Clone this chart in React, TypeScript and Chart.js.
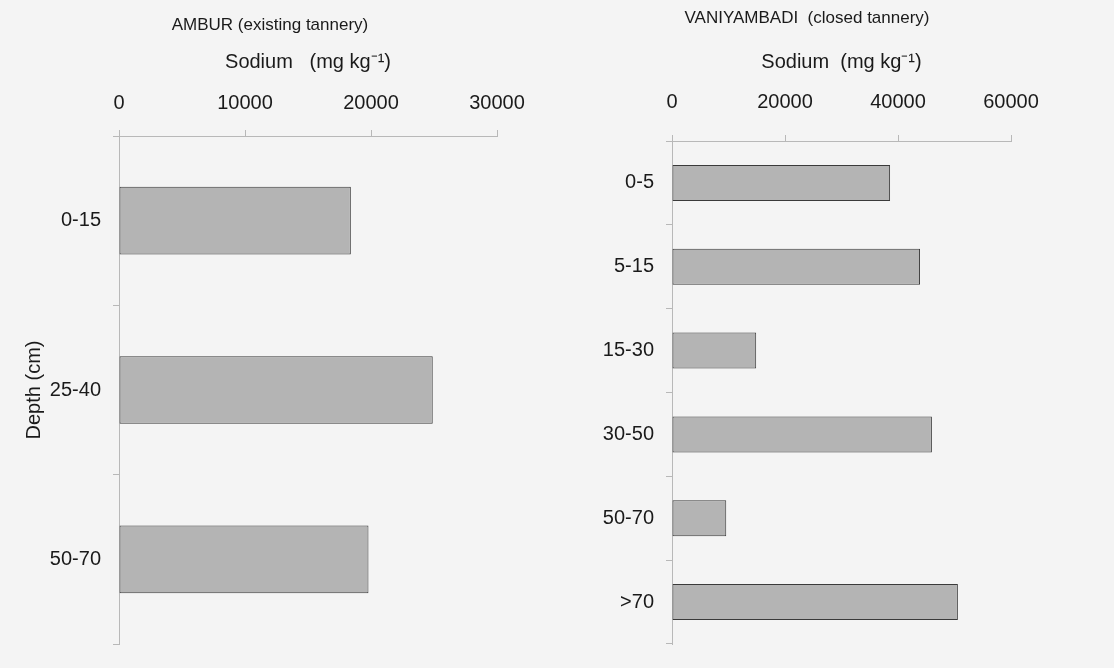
import React, { useEffect, useRef } from 'react';
import { Chart, registerables } from 'chart.js';

Chart.register(...registerables);

// ---- Data ----
const amburTitle = 'AMBUR (existing tannery)';
const amburDepths = ['0-15', '25-40', '50-70'];
const amburSodium = [18400, 24900, 19800];
const amburTicks = [0, 10000, 20000, 30000];

const vaniTitle = 'VANIYAMBADI  (closed tannery)';
const vaniDepths = ['0-5', '5-15', '15-30', '30-50', '50-70', '>70'];
const vaniSodium = [38600, 43900, 14900, 46000, 9600, 50600];
const vaniTicks = [0, 20000, 40000, 60000];

const FAMILY = '"Liberation Sans", Arial, Helvetica, sans-serif';
const TEXT = '#1a1a1a';
const AXIS = '#b8b8b8';
const BAR = '#b4b4b4';
const BAR_BORDER = '#3a3a3a';

type Cfg = {
  title: string;
  titleY: number;
  labels: string[];
  values: number[];
  ticks: number[];
  axisTitle: string;
  depthTitle: boolean;
  topPad: number;
  xHeight: number;
  axisTitlePad: number;
  yWidth: number;
  bottomPad: number;
  barPct: number;
  xTickLineHeight: number;
};

const centeredTitle = {
  id: 'centeredTitle',
  afterDraw(chart: any, _args: any, opts: any) {
    const ctx = chart.ctx;
    ctx.save();
    ctx.font = `normal 17px ${FAMILY}`;
    ctx.fillStyle = TEXT;
    ctx.textAlign = 'center';
    ctx.textBaseline = 'middle';
    ctx.fillText(opts.text, chart.width / 2, opts.y);
    ctx.restore();
  },
};

function build(canvas: HTMLCanvasElement, c: Cfg) {
  const font = { family: FAMILY, size: 20, weight: 'normal' as const };
  return new Chart(canvas, {
    type: 'bar',
    plugins: [centeredTitle],
    data: {
      labels: c.labels,
      datasets: [
        {
          data: c.values,
          backgroundColor: BAR,
          borderColor: BAR_BORDER,
          borderWidth: 1,
          borderSkipped: false,
          barPercentage: c.barPct,
          categoryPercentage: 1,
        },
      ],
    },
    options: {
      indexAxis: 'y',
      responsive: false,
      animation: false,
      layout: { padding: { left: 0, right: 43, top: c.topPad, bottom: c.bottomPad } },
      plugins: {
        legend: { display: false },
        tooltip: { enabled: false },
        title: { display: false },
        centeredTitle: { text: c.title, y: c.titleY },
      },
      scales: {
        x: {
          position: 'top',
          min: c.ticks[0],
          max: c.ticks[c.ticks.length - 1],
          afterBuildTicks: (s: any) => {
            s.ticks = c.ticks.map((v) => ({ value: v }));
          },
          afterFit: (s: any) => {
            s.height = c.xHeight;
          },
          ticks: {
            callback: (v: any) => String(v),
            color: TEXT,
            font: { ...font, lineHeight: c.xTickLineHeight },
            padding: 15,
            maxRotation: 0,
            autoSkip: false,
          },
          grid: { drawOnChartArea: false, drawTicks: true, tickLength: 6, color: AXIS },
          border: { display: true, color: AXIS },
          title: {
            display: true,
            text: c.axisTitle,
            color: TEXT,
            font,
            padding: { top: c.axisTitlePad, bottom: 0 },
          },
        },
        y: {
          afterFit: (s: any) => {
            s.width = c.yWidth;
          },
          ticks: { color: TEXT, font, padding: 12 },
          grid: { drawOnChartArea: false, drawTicks: true, tickLength: 6, color: AXIS, offset: true },
          border: { display: true, color: AXIS },
          title: {
            display: c.depthTitle,
            text: 'Depth (cm)',
            color: TEXT,
            font,
            padding: { top: 22, bottom: 0 },
          },
        },
      },
    },
  } as any);
}

export default function App() {
  const leftRef = useRef<HTMLCanvasElement>(null);
  const rightRef = useRef<HTMLCanvasElement>(null);

  useEffect(() => {
    const a = build(leftRef.current!, {
      title: amburTitle,
      titleY: 25,
      labels: amburDepths,
      values: amburSodium,
      ticks: amburTicks,
      axisTitle: 'Sodium   (mg kg\u207B\u00B9)',
      depthTitle: true,
      topPad: 35,
      xHeight: 101,
      axisTitlePad: 15,
      yWidth: 119,
      bottomPad: 20,
      barPct: 0.4,
      xTickLineHeight: 1.2,
    });
    const b = build(rightRef.current!, {
      title: vaniTitle,
      titleY: 18,
      labels: vaniDepths,
      values: vaniSodium,
      ticks: vaniTicks,
      axisTitle: 'Sodium  (mg kg\u207B\u00B9)',
      depthTitle: false,
      topPad: 28,
      xHeight: 113,
      axisTitlePad: 22,
      yWidth: 112,
      bottomPad: 13,
      barPct: 0.43,
      xTickLineHeight: 1.75,
    });
    return () => {
      a.destroy();
      b.destroy();
    };
  }, []);

  return (
    <div
      style={{
        position: 'fixed',
        left: 0,
        top: 0,
        width: 1114,
        height: 668,
        background: '#f4f4f4',
        overflow: 'hidden',
      }}
    >
      <canvas
        ref={leftRef}
        width={540}
        height={668}
        style={{ position: 'absolute', left: 0, top: 0, width: 540, height: 668 }}
      />
      <canvas
        ref={rightRef}
        width={494}
        height={668}
        style={{ position: 'absolute', left: 560, top: 0, width: 494, height: 668 }}
      />
    </div>
  );
}
